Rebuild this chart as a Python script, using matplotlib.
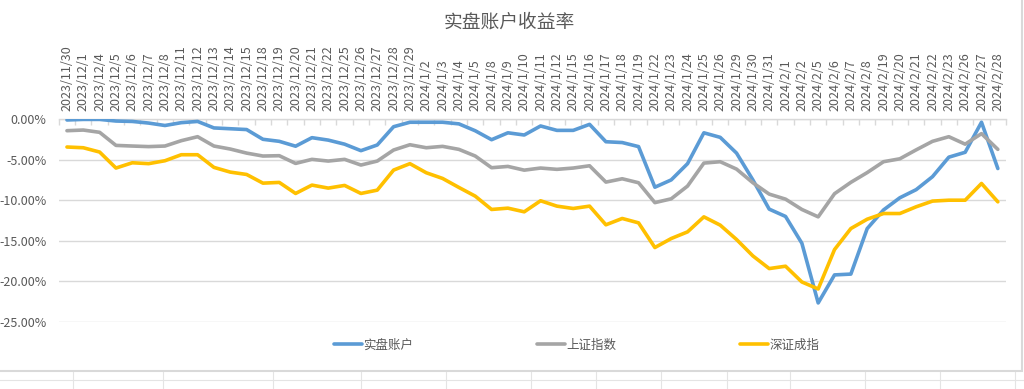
import matplotlib
matplotlib.use("Agg")
import matplotlib.pyplot as plt
from matplotlib.lines import Line2D
from matplotlib.patches import Rectangle
from matplotlib.ticker import FuncFormatter, FixedLocator

plt.rcParams['font.family'] = ['Noto Sans CJK SC', 'DejaVu Sans']

dates = ["2023/11/30", "2023/12/1", "2023/12/4", "2023/12/5", "2023/12/6", "2023/12/7",
         "2023/12/8", "2023/12/11", "2023/12/12", "2023/12/13", "2023/12/14", "2023/12/15",
         "2023/12/18", "2023/12/19", "2023/12/20", "2023/12/21", "2023/12/22", "2023/12/25",
         "2023/12/26", "2023/12/27", "2023/12/28", "2023/12/29", "2024/1/2", "2024/1/3",
         "2024/1/4", "2024/1/5", "2024/1/8", "2024/1/9", "2024/1/10", "2024/1/11",
         "2024/1/12", "2024/1/15", "2024/1/16", "2024/1/17", "2024/1/18", "2024/1/19",
         "2024/1/22", "2024/1/23", "2024/1/24", "2024/1/25", "2024/1/26", "2024/1/29",
         "2024/1/30", "2024/1/31", "2024/2/1", "2024/2/2", "2024/2/5", "2024/2/6",
         "2024/2/7", "2024/2/8", "2024/2/19", "2024/2/20", "2024/2/21", "2024/2/22",
         "2024/2/23", "2024/2/26", "2024/2/27", "2024/2/28"]

account = [-0.12, -0.05, -0.05, -0.25, -0.3, -0.5, -0.8, -0.45, -0.3, -1.1,
           -1.2, -1.3, -2.5, -2.75, -3.35, -2.3, -2.6, -3.1, -3.9, -3.2,
           -0.95, -0.4, -0.4, -0.4, -0.6, -1.45, -2.55, -1.7, -1.97, -0.86,
           -1.4, -1.4, -0.66, -2.8, -2.9, -3.4, -8.4, -7.5, -5.5, -1.7,
           -2.26, -4.2, -7.5, -11.1, -12.0, -15.3, -22.65, -19.2, -19.1, -13.5,
           -11.2, -9.7, -8.7, -7.1, -4.7, -4.1, -0.4, -6.1]

sse = [-1.44, -1.36, -1.64, -3.25, -3.33, -3.4, -3.33, -2.67, -2.18, -3.33,
       -3.7, -4.2, -4.56, -4.52, -5.47, -4.97, -5.18, -4.97, -5.67, -5.18,
       -3.82, -3.17, -3.54, -3.37, -3.74, -4.56, -6.0, -5.84, -6.3, -6.04,
       -6.2, -6.04, -5.76, -7.77, -7.36, -7.85, -10.3, -9.83, -8.26, -5.43,
       -5.26, -6.17, -7.85, -9.25, -9.87, -11.14, -12.05, -9.2, -7.8, -6.6,
       -5.26, -4.9, -3.8, -2.75, -2.18, -3.1, -1.8, -3.74]

szse = [-3.45, -3.54, -4.07, -6.04, -5.39, -5.5, -5.14, -4.4, -4.4, -5.96,
        -6.54, -6.83, -7.9, -7.81, -9.17, -8.14, -8.51, -8.18, -9.17, -8.76,
        -6.29, -5.5, -6.62, -7.32, -8.43, -9.5, -11.14, -10.98, -11.43, -10.07,
        -10.73, -11.02, -10.73, -13.03, -12.25, -12.79, -15.83, -14.72, -13.9, -12.05,
        -13.07, -14.84, -16.86, -18.42, -18.13, -20.07, -20.93, -16.08, -13.49, -12.34,
        -11.64, -11.64, -10.81, -10.11, -10.0, -10.0, -7.94, -10.2]

series_names = ["实盘账户", "上证指数", "深证成指"]
colors = ["#5B9BD5", "#A5A5A5", "#FFC000"]
title = "实盘账户收益率"
yticks = [0, -5, -10, -15, -20, -25]

W, H = 1024, 389
fig = plt.figure(figsize=(W / 100, H / 100), dpi=100)
fig.patch.set_facecolor("white")

# spreadsheet background grid below the chart
gridc = "#e4e4e4"
fig.add_artist(Line2D([0, 1], [1 - 380 / H, 1 - 380 / H], color=gridc, lw=0.8))
for xv in [73, 163, 273, 361, 446, 531, 596, 661, 727, 790, 865, 940, 1015]:
    fig.add_artist(Line2D([xv / W, xv / W], [0, 1 - 372 / H], color=gridc, lw=0.8))
# chart area border
fig.add_artist(Rectangle((-0.01, 1 - 371 / H), (1022 / W) + 0.01, 371 / H + 0.02,
                         fill=False, edgecolor="#d9d9d9", lw=1.5))

ax_l, ax_r = 58.8 / W, 1006 / W
ax_b, ax_t = 1 - 322 / H, 1 - 119 / H
ax = fig.add_axes([ax_l, ax_b, ax_r - ax_l, ax_t - ax_b])
ax.set_facecolor("none")

x = list(range(len(dates)))
for vals, name, c in zip([account, sse, szse], series_names, colors):
    ax.plot(x, vals, color=c, lw=2.6, label=name, solid_capstyle="round",
            solid_joinstyle="round", zorder=3)

ax.set_xlim(-0.5, len(dates) - 0.5)
ax.set_ylim(-25, 0)

for s in ["left", "right", "bottom"]:
    ax.spines[s].set_visible(False)
ax.spines["top"].set_color("#d9d9d9")
ax.spines["top"].set_linewidth(1.0)

ax.yaxis.set_major_locator(FixedLocator(yticks))
ax.yaxis.set_major_formatter(FuncFormatter(lambda v, p: f"{v:.2f}%"))
ax.tick_params(axis="y", length=0, labelsize=9, labelcolor="#595959", pad=9)
ax.grid(axis="y", color="#d9d9d9", lw=1.0)
ax.set_axisbelow(True)

ax.xaxis.tick_top()
ax.set_xticks(x)
ax.set_xticklabels(dates)
ax.set_xticks([i + 0.5 for i in range(-1, len(dates))], minor=True)
ax.tick_params(axis="x", which="major", length=0, labelsize=9, labelcolor="#595959",
               labelrotation=90, pad=6)
ax.tick_params(axis="x", which="minor", direction="in", length=4, color="#d9d9d9",
               width=1.0, top=True, bottom=False)

fig.text(509 / W, 1 - 22 / H, title, ha="center", va="center", fontsize=13.5,
         color="#595959")

leg = fig.legend(loc="center", bbox_to_anchor=(577 / W, 1 - 345 / H), ncol=3,
                 frameon=False, fontsize=9, handlelength=2.2, handletextpad=0.15,
                 columnspacing=9.9, labelcolor="#595959")

fig.savefig("out.png", dpi=100, facecolor="white")
